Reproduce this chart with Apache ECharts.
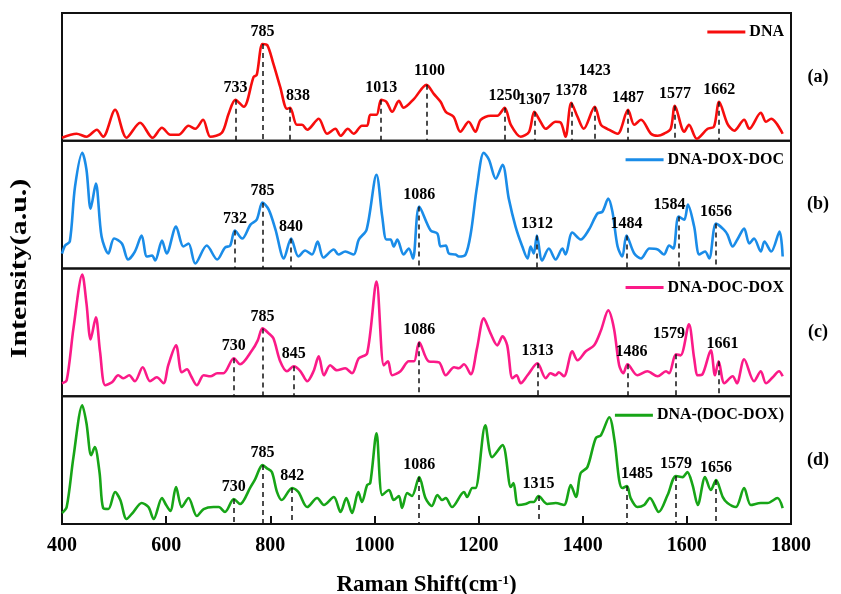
<!DOCTYPE html>
<html>
<head>
<meta charset="utf-8">
<title>Raman spectra</title>
<script src="https://cdn.jsdelivr.net/npm/echarts@6.0.0/dist/echarts.min.js"></script>
<style>
  html, body { margin: 0; padding: 0; background: #fff; }
  #chart { width: 841px; height: 594px; }
</style>
</head>
<body>
<div id="chart"></div>
<script>
// Raman shift (cm-1) and intensity (a.u.) for each sample
const shiftA = [400,428,447,467,479,502,524,550,574,592,608,624,643,656,671,685,707,720,733,749,768,774,785,794,806,819,832,838,851,861,871,893,909,925,935,949,960,976,986,992,1004,1013,1023,1034,1047,1056,1076,1100,1114,1127,1137,1152,1165,1181,1194,1204,1223,1236,1250,1262,1281,1297,1307,1319,1329,1348,1358,1367,1378,1390,1402,1423,1435,1447,1467,1487,1499,1512,1531,1544,1556,1569,1577,1595,1604,1619,1640,1652,1662,1678,1691,1710,1720,1742,1752,1762,1784];
const intensityA = [3,7,4,11,4,31,3,18,3,13,6,6,15,12,21,4,8,27,41,34,64,66,97,96,77,54,32,33,16,16,11,22,7,12,5,12,7,15,15,26,26,41,39,29,40,33,42,56,47,39,29,24,9,19,9,21,25,25,33,16,4,9,29,19,12,19,18,4,38,24,12,34,16,12,7,31,16,21,7,5,7,12,35,9,16,2,12,14,39,17,10,21,12,28,19,22,7];
const peaksA = [733,785,838,1013,1100,1250,1307,1378,1423,1487,1577,1662];

const shiftB = [400,406,415,425,439,447,455,465,476,489,500,515,527,540,553,563,573,579,592,601,619,633,643,656,678,698,713,723,732,746,762,774,785,797,810,826,840,854,867,880,891,902,922,931,944,960,970,985,1004,1015,1023,1031,1037,1044,1056,1066,1074,1086,1108,1121,1127,1137,1143,1156,1162,1175,1185,1197,1210,1220,1233,1246,1258,1271,1284,1294,1300,1306,1312,1322,1335,1348,1361,1367,1380,1396,1412,1428,1438,1449,1457,1467,1476,1484,1499,1512,1528,1544,1556,1566,1574,1584,1595,1602,1614,1624,1635,1643,1656,1671,1678,1688,1697,1710,1720,1729,1742,1749,1762,1778,1784];
const intensityB = [15,23,27,82,116,99,60,85,32,15,30,25,9,17,33,12,13,8,28,15,42,22,25,5,23,9,21,23,38,30,44,49,66,59,39,10,30,12,18,14,27,11,19,14,17,14,29,39,94,52,29,29,22,29,14,20,10,62,38,35,22,23,15,14,12,14,35,82,116,109,90,104,70,42,22,10,22,15,33,8,20,9,20,14,36,29,39,55,57,70,57,22,12,33,15,10,20,19,14,23,20,52,49,64,42,14,17,10,45,39,34,22,29,40,25,30,17,27,17,37,12];
const peaksB = [732,785,840,1086,1312,1484,1584,1656];

const shiftC = [400,409,422,439,447,455,465,473,483,496,508,518,529,540,555,569,582,595,604,619,630,640,648,659,672,685,698,710,730,742,765,776,785,797,806,819,832,845,858,871,883,893,903,915,928,944,957,970,986,1004,1018,1026,1034,1050,1066,1076,1086,1104,1124,1137,1153,1162,1172,1185,1197,1210,1223,1236,1246,1255,1265,1273,1281,1294,1313,1329,1338,1348,1354,1364,1380,1390,1406,1422,1435,1449,1460,1470,1478,1486,1505,1524,1544,1560,1566,1579,1588,1604,1614,1621,1630,1646,1654,1661,1672,1688,1696,1710,1729,1742,1752,1765,1777,1784];
const intensityC = [13,16,68,122,93,57,79,45,11,14,21,18,21,15,29,15,19,13,31,51,24,27,20,11,21,20,23,23,38,32,46,56,68,63,58,35,25,30,25,15,25,40,21,31,26,28,23,38,43,115,31,35,21,25,35,35,54,35,34,21,29,28,32,22,48,78,63,51,60,51,18,21,13,21,33,18,23,21,24,20,45,36,45,51,66,86,68,31,23,32,21,25,20,25,23,42,41,72,38,21,22,46,21,35,13,20,13,37,15,25,13,19,25,20];
const peaksC = [730,785,845,1086,1313,1486,1579,1661];

const shiftD = [400,409,422,439,447,456,463,472,479,489,502,512,524,537,553,566,576,592,600,608,619,630,643,659,672,691,701,713,730,742,762,771,785,793,803,813,822,842,854,871,890,903,922,935,946,957,969,976,986,992,1004,1015,1028,1037,1047,1053,1063,1072,1086,1098,1110,1121,1130,1137,1149,1172,1178,1188,1194,1213,1226,1246,1262,1267,1276,1290,1300,1306,1315,1332,1348,1364,1377,1387,1396,1409,1425,1435,1451,1461,1470,1476,1485,1492,1505,1518,1529,1546,1563,1579,1592,1601,1611,1621,1635,1646,1656,1669,1678,1694,1710,1723,1742,1755,1774,1784];
const intensityD = [11,17,67,119,101,69,77,52,16,15,32,24,5,12,21,17,5,26,19,13,37,17,26,8,15,17,17,12,25,20,37,45,59,56,52,32,24,36,32,17,26,19,27,12,26,11,32,22,39,41,91,29,34,24,28,16,31,28,47,26,18,29,24,26,17,32,27,36,36,99,67,79,37,41,19,20,22,22,28,20,21,19,39,27,51,57,86,89,107,84,44,36,38,26,17,19,26,12,29,48,47,52,39,19,47,34,44,27,21,17,36,19,21,21,26,16];
const peaksD = [730,785,842,1086,1315,1485,1579,1656];

const sampleNames = ['DNA', 'DNA-DOX-DOC', 'DNA-DOC-DOX', 'DNA-(DOC-DOX)'];
const panelTags = ['(a)', '(b)', '(c)', '(d)'];
const xTicks = [400, 600, 800, 1000, 1200, 1400, 1600, 1800];

// ---- styling / layout ----
const SERIF = '"Liberation Serif", "Times New Roman", Times, serif';
const INK = '#000';
const colors = ['#f70d0d', '#1a8ce8', '#fb1a88', '#17a517'];
const LEFT = 62, RIGHT = 50, TOP = 13, PANEL_H = 127.75, Y_MAX = 128;
// small pixel nudges for peak labels that sit off-centre
const labelNudge = [
  { 838: [8, 0], 1423: [0, -24], 1100: [3, -2] },
  { 1584: [-9, 0] },
  { 1486: [4, 0], 1579: [-7, -8], 1661: [4, -5] },
  { 1485: [10, 0] }
];

const panels = [
  { x: shiftA, y: intensityA, peaks: peaksA },
  { x: shiftB, y: intensityB, peaks: peaksB },
  { x: shiftC, y: intensityC, peaks: peaksC },
  { x: shiftD, y: intensityD, peaks: peaksD }
];

function valueAt(xs, ys, wn) {
  for (let i = 0; i < xs.length; i++) {
    if (xs[i] === wn) return ys[i];
    if (xs[i] > wn && i > 0) {
      const t = (wn - xs[i - 1]) / (xs[i] - xs[i - 1]);
      return ys[i - 1] + t * (ys[i] - ys[i - 1]);
    }
  }
  return ys[ys.length - 1];
}

const peakLabelStyle = {
  show: true, position: 'top', distance: 4,
  color: INK, opacity: 1, textBorderWidth: 0,
  fontFamily: SERIF, fontWeight: 'bold', fontSize: 16
};

const grids = [], xAxes = [], yAxes = [], series = [], legends = [], graphics = [];

panels.forEach((p, i) => {
  const top = TOP + i * PANEL_H;
  const last = i === panels.length - 1;
  grids.push({
    left: LEFT, right: RIGHT, top: top, height: PANEL_H,
    containLabel: false, outerBoundsMode: 'none',
    show: true, borderColor: '#111', borderWidth: 2, backgroundColor: 'transparent'
  });
  xAxes.push({
    type: 'value', gridIndex: i, min: xTicks[0], max: xTicks[xTicks.length - 1], interval: 200,
    axisLine: { show: last, onZero: false, lineStyle: { color: '#111', width: 2 } },
    axisTick: { show: last, inside: true, length: 8, lineStyle: { color: '#111', width: 2 } },
    axisLabel: {
      show: last, margin: 12, color: INK, fontFamily: SERIF, fontWeight: 'bold', fontSize: 20,
      formatter: v => String(v)
    },
    splitLine: { show: false },
    name: last ? 'Raman Shift(cm{sup|-1})' : '',
    nameLocation: 'middle', nameGap: 50,
    nameTextStyle: {
      color: INK, fontFamily: SERIF, fontWeight: 'bold', fontSize: 23,
      rich: { sup: { fontFamily: SERIF, fontWeight: 'bold', fontSize: 13, color: INK, lineHeight: 14, verticalAlign: 'top' } }
    }
  });
  yAxes.push({
    type: 'value', gridIndex: i, min: 0, max: Y_MAX, show: false,
    splitLine: { show: false }
  });

  const pts = p.x.map((wn, k) => [wn, p.y[k]]);
  const peakPts = p.peaks.map(wn => [wn, valueAt(p.x, p.y, wn)]);

  series.push({
    name: sampleNames[i], type: 'line', xAxisIndex: i, yAxisIndex: i,
    data: pts, smooth: 0.3, showSymbol: false, symbol: 'none',
    lineStyle: { color: colors[i], width: 2.6 },
    itemStyle: { color: colors[i] },
    z: 3,
    markLine: {
      silent: true, symbol: ['none', 'none'], animation: false,
      label: { show: false },
      lineStyle: { color: '#111', width: 1.5, type: [5, 4], opacity: 1 },
      data: peakPts.map(pt => [{ coord: [pt[0], pt[1]] }, { coord: [pt[0], 0] }])
    }
  });

  series.push({
    name: 'peaks-' + i, type: 'scatter', xAxisIndex: i, yAxisIndex: i,
    symbolSize: 0, silent: true, z: 5,
    itemStyle: { opacity: 1 },
    label: peakLabelStyle,
    data: peakPts.map(pt => ({
      value: pt,
      label: Object.assign({}, peakLabelStyle, {
        offset: labelNudge[i][pt[0]] || [0, 0],
        formatter: String(pt[0])
      })
    }))
  });

  legends.push({
    data: [sampleNames[i]], right: RIGHT + 2, top: top + 6,
    icon: 'rect', itemWidth: 38, itemHeight: 3, itemGap: 0,
    selectedMode: false,
    textStyle: { color: INK, fontFamily: SERIF, fontWeight: 'bold', fontSize: 16, padding: [0, 0, 0, -1] }
  });

  graphics.push({
    type: 'text', x: 818, y: top + PANEL_H / 2,
    style: {
      text: panelTags[i], fill: INK, font: 'bold 18px ' + SERIF,
      textAlign: 'center', verticalAlign: 'middle'
    }
  });
});

graphics.push({
  type: 'text', x: 20, y: TOP + 2 * PANEL_H, rotation: Math.PI / 2, scaleX: 1.3,
  style: {
    text: 'Intensity(a.u.)', fill: INK, font: 'bold 23px ' + SERIF,
    textAlign: 'center', verticalAlign: 'middle'
  }
});

const chart = echarts.init(document.getElementById('chart'), null, { renderer: 'canvas' });
chart.setOption({
  backgroundColor: '#fff',
  animation: false,
  grid: grids,
  xAxis: xAxes,
  yAxis: yAxes,
  legend: legends,
  series: series,
  graphic: graphics
});
</script>
</body>
</html>
